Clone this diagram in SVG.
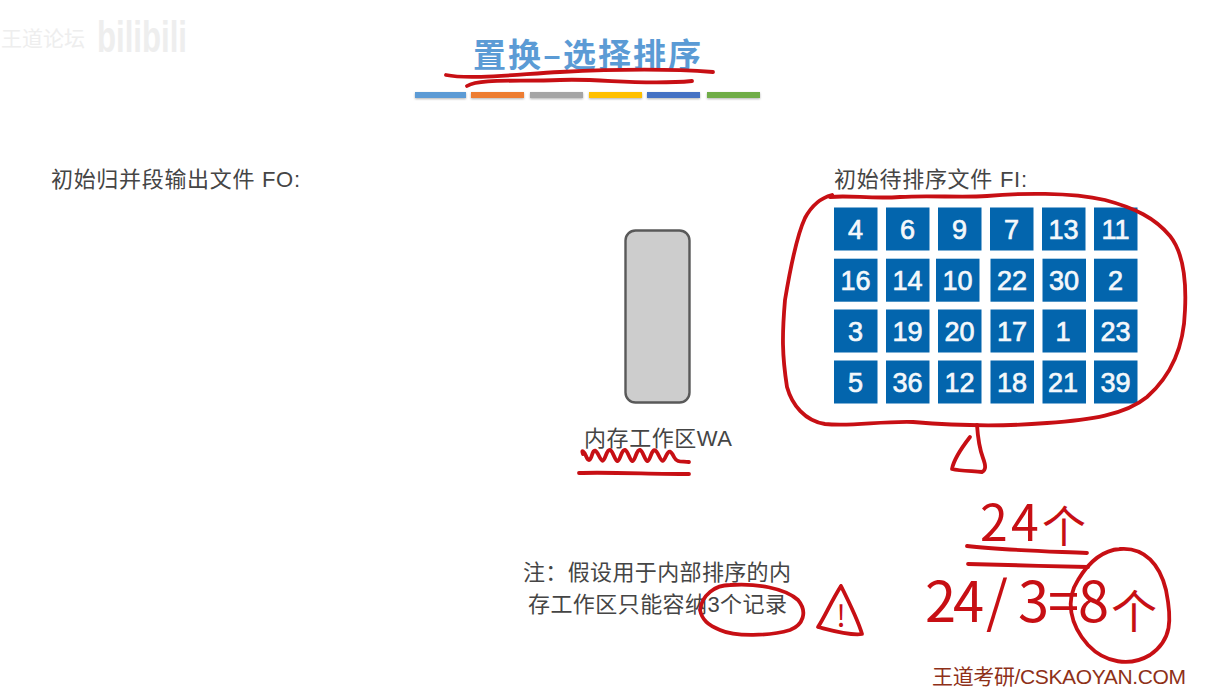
<svg xmlns="http://www.w3.org/2000/svg" width="1205" height="696" viewBox="0 0 1205 696">
<style>
.t{font-family:"Liberation Sans","Noto Sans CJK SC",sans-serif;font-size:22px;fill:#454545}
.n{font-family:"Liberation Sans",Arial,sans-serif;font-size:27px;fill:#f4f8fb;stroke:#f4f8fb;stroke-width:.7;text-anchor:middle}
.c{fill:#0365ad}
.ink{fill:none;stroke:#c70f14;stroke-width:3.8;stroke-linecap:round;stroke-linejoin:round}
.hw{font-family:"Noto Sans CJK SC",sans-serif;fill:#c70f14}
.bar{filter:url(#s)}
</style>
<defs><filter id="s" x="-10%" y="-50%" width="120%" height="220%"><feDropShadow dx="0" dy="1" stdDeviation="0.8" flood-color="#000" flood-opacity=".3"/></filter></defs>
<rect width="1205" height="696" fill="#fff"/>
<g id="watermark" font-family="'Noto Sans CJK SC',sans-serif" fill="#eeeeee">
<text x="1" y="46" font-size="21" textLength="84">王道论坛</text>
<text x="97" y="52" font-size="44" font-weight="700" font-family="'Liberation Sans',sans-serif" textLength="90" lengthAdjust="spacingAndGlyphs">bilibili</text>
</g>
<g id="title">
<text x="473" y="67" font-family="'Noto Sans CJK SC',sans-serif" font-size="33" font-weight="700" fill="#5b9bd5" textLength="228">置换–选择排序</text>
<rect class="bar" x="415" y="92" width="51" height="6" fill="#5b9bd5"/>
<rect class="bar" x="471" y="92" width="53" height="6" fill="#ed7d31"/>
<rect class="bar" x="530" y="92" width="53" height="6" fill="#a5a5a5"/>
<rect class="bar" x="589" y="92" width="53" height="6" fill="#ffc000"/>
<rect class="bar" x="647" y="92" width="53" height="6" fill="#4472c4"/>
<rect class="bar" x="707" y="92" width="53" height="6" fill="#70ad47"/>
</g>
<g id="fo-label"><text class="t" x="51" y="187" textLength="249">初始归并段输出文件 FO:</text></g>
<g id="fi-label"><text class="t" x="834" y="187" textLength="193">初始待排序文件 FI:</text></g>
<g id="wa">
<rect x="625.5" y="230.500" width="64" height="172" rx="10" fill="#cdcdcd" stroke="#595959" stroke-width="2.4"/>
<text class="t" x="584" y="446" textLength="148">内存工作区WA</text>
</g>
<g id="note">
<text class="t" x="523" y="580" textLength="268">注：假设用于内部排序的内</text>
<text class="t" x="528" y="612" textLength="259">存工作区只能容纳3个记录</text>
</g>
<g id="cells">
<g id="row1">
<rect class="c" x="834" y="207.500" width="43.500" height="43"/><text class="n" x="855.500" y="239">4</text>
<rect class="c" x="886" y="207.500" width="43.500" height="43"/><text class="n" x="907.500" y="239">6</text>
<rect class="c" x="938" y="207.500" width="43.500" height="43"/><text class="n" x="959.500" y="239">9</text>
<rect class="c" x="990" y="207.500" width="43.500" height="43"/><text class="n" x="1011.500" y="239">7</text>
<rect class="c" x="1042" y="207.500" width="43.500" height="43"/><text class="n" x="1063.500" y="239">13</text>
<rect class="c" x="1094" y="207.500" width="43.500" height="43"/><text class="n" x="1115.500" y="239">11</text>
</g>
<g id="row2">
<rect class="c" x="834" y="258.700" width="43.500" height="43"/><text class="n" x="855.500" y="290">16</text>
<rect class="c" x="886" y="258.700" width="43.500" height="43"/><text class="n" x="907.500" y="290">14</text>
<rect class="c" x="936" y="258.700" width="43.500" height="43"/><text class="n" x="957.500" y="290">10</text>
<rect class="c" x="990.500" y="258.700" width="43.500" height="43"/><text class="n" x="1012" y="290">22</text>
<rect class="c" x="1042.500" y="258.700" width="43.500" height="43"/><text class="n" x="1064" y="290">30</text>
<rect class="c" x="1094" y="258.700" width="43.500" height="43"/><text class="n" x="1115.500" y="290">2</text>
</g>
<g id="row3">
<rect class="c" x="834" y="309.500" width="43.500" height="43"/><text class="n" x="855.500" y="341">3</text>
<rect class="c" x="886" y="309.500" width="43.500" height="43"/><text class="n" x="907.500" y="341">19</text>
<rect class="c" x="938" y="309.500" width="43.500" height="43"/><text class="n" x="959.500" y="341">20</text>
<rect class="c" x="990.500" y="309.500" width="43.500" height="43"/><text class="n" x="1012" y="341">17</text>
<rect class="c" x="1042.500" y="309.500" width="43.500" height="43"/><text class="n" x="1063" y="341">1</text>
<rect class="c" x="1094" y="309.500" width="43.500" height="43"/><text class="n" x="1115.500" y="341">23</text>
</g>
<g id="row4">
<rect class="c" x="834" y="360.500" width="43.500" height="43"/><text class="n" x="855.500" y="392">5</text>
<rect class="c" x="886" y="360.500" width="43.500" height="43"/><text class="n" x="907.500" y="392">36</text>
<rect class="c" x="938" y="360.500" width="43.500" height="43"/><text class="n" x="959.500" y="392">12</text>
<rect class="c" x="990.500" y="360.500" width="43.500" height="43"/><text class="n" x="1012" y="392">18</text>
<rect class="c" x="1042.500" y="360.500" width="43.500" height="43"/><text class="n" x="1063" y="392">21</text>
<rect class="c" x="1094" y="360.500" width="43.500" height="43"/><text class="n" x="1115.500" y="392">39</text>
</g>
</g>
<g id="annotations">
<path class="ink" d="M446 75C470 80 520 74 560 72S660 68 713 72"/>
<path class="ink" d="M467 86C480 78 520 82 560 80S640 86 692 81"/>
<path class="ink" d="M830 197C850 195 870 199 900 197S960 198 987 196C1020 193 1070 192 1105 200C1135 208 1155 218 1170 236C1186 256 1186 290 1185 310C1184 345 1172 375 1147 397C1125 415 1090 420 1047 423C1010 426 960 426 913 422C880 421 850 427 825 424C805 421 792 405 787 387C782 355 782 335 785 300C790 270 797 235 805 218C812 205 820 198 832 195"/>
<path class="ink" d="M977 425C978 440 980 450 983 458C986 466 986 470 982 472C972 471 960 471 952 469C954 458 963 446 970 437"/>
<path class="ink" d="M583 454C581 449 584 451 586 456S590 462 592 455S596 450 599 456S603 463 606 455S611 449 614 456S618 463 621 455S626 449 629 456S633 463 636 455S641 449 644 456S648 463 651 455S656 450 659 456S663 463 666 456S671 451 674 457S682 461 689 462"/>
<path class="ink" d="M579 473C610 472 650 474 689 474"/>
<path class="ink" d="M700 610C702 595 715 585 730 585C755 583 785 588 798 600C808 612 803 625 790 630C770 636 735 637 720 630C708 625 702 620 700 610"/>
<path class="ink" d="M841 586C832 600 824 618 818 627C830 630 850 636 862 634C858 620 848 600 841 586"/>
<text class="hw" x="841" y="627" font-size="30" text-anchor="middle">!</text>
<path class="ink" d="M967 546C1000 550 1040 551 1087 553"/>
<path class="ink" d="M968 564C1000 565 1050 566 1088 567"/>
<text class="hw" y="541" font-size="50" x="980 1011">24</text>
<text class="hw" x="1042" y="543" font-size="44">个</text>
<text class="hw" y="622" font-size="56" x="925 953 986 1018 1048 1078">24/3=8</text>
<text class="hw" x="1111" y="628" font-size="46">个</text>
<path class="ink" d="M1120 549C1145 547 1160 565 1166 590C1172 620 1172 640 1150 655C1130 667 1105 663 1088 645C1070 625 1065 600 1078 580C1090 560 1105 550 1120 549"/>
</g>
<g id="credit"><text x="932" y="684" font-family="'Liberation Sans','Noto Sans CJK SC',sans-serif" font-size="21" fill="#8e3018" textLength="254">王道考研/CSKAOYAN.COM</text></g>
</svg>
